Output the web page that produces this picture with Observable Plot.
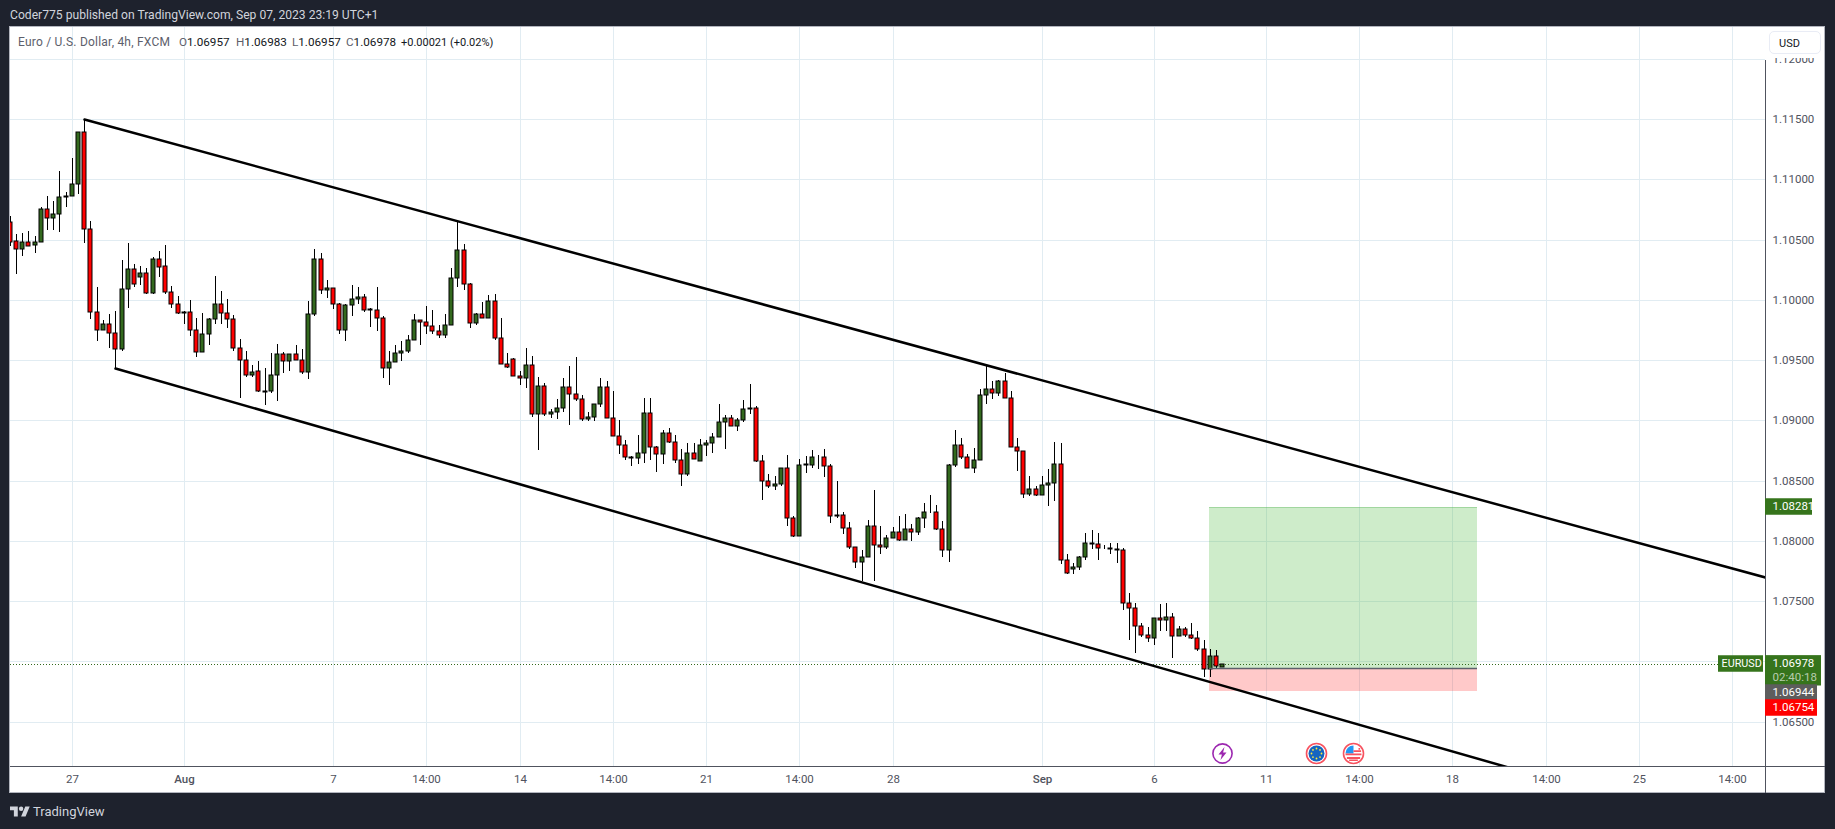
<!DOCTYPE html>
<html><head><meta charset="utf-8">
<script src="https://cdn.jsdelivr.net/npm/d3@7"></script>
<script src="https://cdn.jsdelivr.net/npm/@observablehq/plot@0.6"></script>
<style>
html,body{margin:0;padding:0;width:1835px;height:829px;overflow:hidden;background:#1e222d;font-family:Roboto,sans-serif}
#panel{position:absolute;left:10px;top:27px;width:1814px;height:765px;background:#fff;border:1px solid #b2b5be;box-sizing:content-box;margin:-1px}
#chart{position:absolute;left:0;top:0}
#head{position:absolute;left:10px;top:6px;font-size:12.13px;color:#d1d4dc;white-space:nowrap;line-height:18px}
#legend span{position:absolute;top:34px;font-size:11.7px;color:#131722;white-space:pre;line-height:17px}
#legend b{font-weight:400;color:#5d606b}
#legend .name{left:18px;letter-spacing:.22px;color:#5d606b;font-size:12px}
#legend .chg{left:401px;font-size:11px}
#cover{position:absolute;left:1766px;top:27px;width:58px;height:31px;background:#fff}
#usd{position:absolute;left:1769px;top:31px;width:41px;height:21px;background:#fff;border:1px solid #e9ecf5;border-radius:5px;font-size:11px;color:#131722;line-height:23px;padding-left:9px;box-sizing:content-box}
#brand{position:absolute;left:10px;top:804px;font-size:13px;color:#d1d4dc;line-height:16px;display:flex;align-items:center;gap:3px}
</style></head><body>
<div id="panel"></div>
<div id="chart"></div>
<div id="head">Coder775 published on TradingView.com, Sep 07, 2023 23:19 UTC+1</div>
<div id="legend"><span class="name">Euro / U.S. Dollar, 4h, FXCM</span><span style="left:179px"><b>O</b>1.06957</span><span style="left:236px"><b>H</b>1.06983</span><span style="left:292px"><b>L</b>1.06957</span><span style="left:346px"><b>C</b>1.06978</span><span class="chg">+0.00021 (+0.02%)</span></div>
<div id="cover"></div>
<div id="usd">USD</div>
<div id="brand"><svg width="20" height="16" viewBox="0 0 36 28"><path fill="#d1d4dc" d="M14 22H7V11H0V4h14v18zM28 22h-8l7.5-18h8L28 22z"/><circle fill="#d1d4dc" cx="20" cy="8" r="4"/></svg><span>TradingView</span></div>
<script>
const opens=[1.10645,1.10487,1.10421,1.10479,1.10454,1.10479,1.10753,1.10678,1.10711,1.10852,
1.10861,1.10960,1.11392,1.10587,1.09898,1.09749,1.09798,1.09724,1.09591,1.10089,
1.10255,1.10188,1.10222,1.10056,1.10338,1.10280,1.10064,1.09964,1.09890,1.09898,
1.09749,1.09566,1.09715,1.09840,1.09964,1.09890,1.09840,1.09599,1.09500,1.09375,
1.09406,1.09236,1.09243,1.09379,1.09553,1.09492,1.09553,1.09503,1.09403,1.09885,
1.10341,1.10084,1.10100,1.09968,1.09752,1.09959,1.10009,1.10026,1.09918,1.09918,
1.09851,1.09437,1.09486,1.09561,1.09578,1.09669,1.09835,1.09818,1.09785,1.09744,
1.09710,1.09793,1.10183,1.10415,1.10133,1.09810,1.09885,1.09851,1.09992,1.09685,
1.09470,1.09509,1.09370,1.09351,1.09461,1.09055,1.09287,1.09055,1.09071,1.09104,
1.09279,1.09221,1.09179,1.09013,1.09030,1.09138,1.09279,1.09022,1.08872,1.08798,
1.08698,1.08690,1.08731,1.09063,1.08781,1.08723,1.08897,1.08822,1.08673,1.08557,
1.08731,1.08665,1.08798,1.08814,1.08864,1.08988,1.09022,1.08955,1.09005,1.09096,
1.09104,1.08665,1.08499,1.08455,1.08474,1.08607,1.08192,1.08043,1.08632,1.08632,
1.08698,1.08698,1.08624,1.08206,1.08217,1.08109,1.07949,1.07827,1.07869,1.08126,
1.07968,1.07949,1.08027,1.08076,1.08007,1.08101,1.08076,1.08192,1.08242,1.08242,
1.08101,1.07927,1.08632,1.08798,1.08698,1.08607,1.08673,1.09212,1.09262,1.09229,
1.09328,1.09187,1.08781,1.08747,1.08391,1.08432,1.08382,1.08465,1.08482,1.08640,
1.07843,1.07769,1.07785,1.07868,1.07984,1.07976,1.07940,1.07943,1.07935,1.07926,
1.07487,1.07445,1.07296,1.07221,1.07196,1.07362,1.07346,1.07371,1.07213,1.07271,
1.07221,1.07196,1.07105,1.06939,1.07047,1.06957];
const closes=[1.10484,1.10421,1.10479,1.10451,1.10479,1.10753,1.10678,1.10711,1.10852,1.10858,
1.10960,1.11392,1.10587,1.09898,1.09749,1.09798,1.09724,1.09591,1.10089,1.10255,
1.10130,1.10222,1.10056,1.10338,1.10277,1.10064,1.09964,1.09890,1.09898,1.09749,
1.09566,1.09715,1.09840,1.09964,1.09890,1.09840,1.09599,1.09500,1.09375,1.09400,
1.09240,1.09243,1.09379,1.09553,1.09492,1.09553,1.09503,1.09403,1.09885,1.10341,
1.10084,1.10100,1.09968,1.09752,1.09959,1.10009,1.10026,1.09918,1.09924,1.09851,
1.09437,1.09486,1.09561,1.09578,1.09669,1.09835,1.09818,1.09785,1.09744,1.09710,
1.09793,1.10183,1.10415,1.10133,1.09810,1.09885,1.09851,1.09992,1.09685,1.09470,
1.09445,1.09370,1.09351,1.09461,1.09055,1.09287,1.09055,1.09071,1.09104,1.09279,
1.09221,1.09176,1.09013,1.09030,1.09138,1.09279,1.09022,1.08872,1.08798,1.08698,
1.08690,1.08731,1.09063,1.08781,1.08723,1.08897,1.08822,1.08673,1.08557,1.08731,
1.08681,1.08798,1.08814,1.08864,1.08988,1.09022,1.08955,1.09005,1.09096,1.09104,
1.08665,1.08499,1.08455,1.08474,1.08607,1.08192,1.08043,1.08632,1.08640,1.08698,
1.08698,1.08624,1.08209,1.08217,1.08109,1.07949,1.07827,1.07869,1.08126,1.07968,
1.07949,1.08027,1.08076,1.08007,1.08101,1.08076,1.08192,1.08242,1.08242,1.08101,
1.07927,1.08632,1.08798,1.08698,1.08607,1.08674,1.09212,1.09262,1.09229,1.09328,
1.09187,1.08781,1.08747,1.08391,1.08432,1.08382,1.08465,1.08482,1.08640,1.07843,
1.07735,1.07785,1.07868,1.07984,1.07976,1.07943,1.07940,1.07935,1.07926,1.07487,
1.07445,1.07296,1.07221,1.07196,1.07362,1.07346,1.07371,1.07213,1.07271,1.07221,
1.07196,1.07105,1.06939,1.07047,1.06964,1.06978];
const highs=[1.10700,1.10545,1.10556,1.10573,1.10529,1.10772,1.10863,1.10822,1.11071,1.10897,
1.11179,1.11392,1.11500,1.10653,1.10108,1.09832,1.09881,1.09909,1.10332,1.10473,
1.10299,1.10283,1.10263,1.10357,1.10404,1.10457,1.10114,1.10034,1.09906,1.10000,
1.09851,1.09893,1.09851,1.10200,1.10075,1.10009,1.09873,1.09677,1.09577,1.09458,
1.09497,1.09437,1.09561,1.09630,1.09569,1.09553,1.09622,1.09589,1.09987,1.10426,
1.10393,1.10169,1.10100,1.09976,1.09968,1.10120,1.10103,1.10050,1.09929,1.10111,
1.09868,1.09578,1.09622,1.09655,1.09710,1.09887,1.09835,1.09951,1.09918,1.09793,
1.09887,1.10266,1.10650,1.10460,1.10142,1.09893,1.09984,1.10037,1.10050,1.09846,
1.09561,1.09520,1.09412,1.09602,1.09536,1.09362,1.09312,1.09096,1.09179,1.09348,
1.09453,1.09528,1.09212,1.09071,1.09138,1.09348,1.09328,1.09240,1.09005,1.08839,
1.08706,1.08875,1.09190,1.09182,1.08789,1.08922,1.08939,1.08875,1.08764,1.08814,
1.08814,1.08847,1.08839,1.08897,1.09140,1.09046,1.09041,1.09022,1.09171,1.09306,
1.09121,1.08715,1.08557,1.08541,1.08607,1.08715,1.08209,1.08682,1.08709,1.08756,
1.08715,1.08765,1.08640,1.08494,1.08242,1.08159,1.07949,1.07927,1.08176,1.08419,
1.08126,1.08051,1.08118,1.08209,1.08226,1.08143,1.08201,1.08317,1.08383,1.08300,
1.08167,1.08640,1.08922,1.08856,1.08723,1.08773,1.09262,1.09461,1.09328,1.09336,
1.09394,1.09245,1.08855,1.08747,1.08543,1.08457,1.08540,1.08598,1.08822,1.08814,
1.07893,1.07818,1.07879,1.08070,1.08095,1.08062,1.07965,1.07987,1.07987,1.07943,
1.07570,1.07487,1.07321,1.07288,1.07362,1.07478,1.07487,1.07404,1.07296,1.07288,
1.07321,1.07255,1.07180,1.07105,1.07097,1.06983];
const lows=[1.10450,1.10211,1.10360,1.10443,1.10385,1.10479,1.10576,1.10576,1.10567,1.10772,
1.10858,1.10880,1.10476,1.09843,1.09663,1.09749,1.09597,1.09433,1.09572,1.09934,
1.10111,1.10125,1.10053,1.10053,1.10194,1.10045,1.09934,1.09884,1.09801,1.09702,
1.09530,1.09566,1.09627,1.09804,1.09804,1.09763,1.09580,1.09187,1.09359,1.09364,
1.09232,1.09127,1.09226,1.09160,1.09395,1.09406,1.09503,1.09384,1.09343,1.09865,
1.10048,1.10015,1.09923,1.09716,1.09658,1.09865,1.09965,1.09901,1.09774,1.09741,
1.09351,1.09293,1.09486,1.09497,1.09561,1.09669,1.09622,1.09721,1.09716,1.09680,
1.09683,1.09793,1.10103,1.10081,1.09766,1.09791,1.09851,1.09851,1.09666,1.09470,
1.09434,1.09370,1.09295,1.09268,1.09027,1.08751,1.09035,1.09019,1.09010,1.09069,
1.08966,1.09160,1.08994,1.08994,1.08994,1.09110,1.09022,1.08872,1.08720,1.08670,
1.08621,1.08637,1.08645,1.08670,1.08571,1.08637,1.08811,1.08645,1.08455,1.08538,
1.08681,1.08665,1.08704,1.08728,1.08864,1.08759,1.08955,1.08911,1.08986,1.09055,
1.08654,1.08339,1.08439,1.08422,1.08455,1.08123,1.08035,1.08043,1.08563,1.08607,
1.08593,1.08530,1.08148,1.08192,1.08054,1.07933,1.07772,1.07667,1.07869,1.07667,
1.07891,1.07935,1.08027,1.08000,1.08007,1.07996,1.08046,1.08104,1.08236,1.08090,
1.07869,1.07825,1.08615,1.08682,1.08607,1.08566,1.08673,1.09135,1.09176,1.09201,
1.09187,1.08781,1.08579,1.08355,1.08371,1.08371,1.08382,1.08288,1.08330,1.07807,
1.07727,1.07727,1.07758,1.07840,1.07932,1.07840,1.07932,1.07890,1.07816,1.07426,
1.07177,1.07067,1.07202,1.07161,1.07136,1.07252,1.07252,1.07028,1.07213,1.07205,
1.07188,1.07089,1.06870,1.06870,1.06948,1.06957];

const yTicks=[1.065,1.07,1.075,1.08,1.085,1.09,1.095,1.10,1.105,1.11,1.115,1.12];
const dayTicks=[10,52,67,82,97,112,127,142,184,202,217,232,247,262,277];
const dayLabels=["27","7","14:00","14","14:00","21","14:00","28","6","11","14:00","18","14:00","25","14:00"];
const monthTicks=[28,166];
const monthLabels=["Aug","Sep"];

const upperChannel=[{i:12,p:1.115},{i:282.2,p:1.07705}];
const lowerChannel=[{i:17,p:1.09433},{i:241,p:1.06123}];
const targetPrice=1.08281, entryPrice=1.06944, stopPrice=1.06754, lastPrice=1.06978;
const boxStart=192.8, boxEnd=236;

const tagNames=["1.08281","1.06978","1.06944","1.06754"];
const tagLevels=[1.08289,1.06986,1.06751,1.06622];
const tagColors=["#36741c","#36741c","#5d5d5d","#ff0000"];
const tagEnds=[289.9,291.3,290.6,290.6];

const eventIdx=[195,210,216];
const eventLevel=1.06245;
const axisIdx=282.2;

const candles=opens.map((o,i)=>({i,o,c:closes[i],h:highs[i],l:lows[i]}));
const tags=tagNames.map((t,k)=>({t,y:tagLevels[k],fill:tagColors[k],end:tagEnds[k]}));
const events=eventIdx.map(i=>({i,y:eventLevel}));

const bolt={draw(c){c.moveTo(2,-6.5);c.lineTo(-4,1);c.lineTo(-.6,1);c.lineTo(-2,6.5);c.lineTo(4,-1);c.lineTo(.6,-1);c.closePath();}};
const stars={draw(c){for(let k=0;k<8;k++){const a=k*Math.PI/4,x=5*Math.cos(a),y=5*Math.sin(a);c.moveTo(x+.9,y);c.arc(x,y,.9,0,7);}}};
const stripes={draw(c){for(const [y,h] of [[0,1.8],[3.6,1.8],[6,1.4]]){const w=Math.sqrt(64-Math.pow(y+h/2,2));c.rect(-w,y,2*w,h);}c.rect(5,-5.5,1.6,1.8);c.rect(0,-3.2,7.6,1.8);}};
const canton={draw(c){c.moveTo(0,-8);c.lineTo(0,0);c.lineTo(-8,0);c.arc(0,0,8,Math.PI,1.5*Math.PI);c.closePath();}};

const font="Roboto, sans-serif";
const svg=Plot.plot({
  width:1835,height:829,
  marginLeft:10,marginRight:70,marginTop:27,marginBottom:63,
  style:{background:"transparent",fontFamily:font},
  x:{type:"linear",domain:[0.06,282.28],axis:null,round:true},
  y:{type:"linear",domain:[1.06133,1.12264],axis:null,round:true},
  color:{type:"identity"},
  marks:[
    Plot.ruleX([...dayTicks,...monthTicks],{stroke:"#e1ecf2",strokeWidth:1}),
    Plot.ruleY(yTicks,{stroke:"#e1ecf2",strokeWidth:1}),
    Plot.rect([0],{x1:boxStart,x2:boxEnd,y1:entryPrice,y2:targetPrice,fill:"#4ab93b",fillOpacity:.27}),
    Plot.rect([0],{x1:boxStart,x2:boxEnd,y1:stopPrice,y2:entryPrice,fill:"#ff0000",fillOpacity:.21}),
    Plot.ruleY([targetPrice],{x1:boxStart,x2:boxEnd,stroke:"#4caf50",strokeOpacity:.35}),
    Plot.ruleY([lastPrice],{stroke:"#33691e",strokeWidth:1,strokeDasharray:"1,2"}),
    Plot.ruleX(candles,{x:"i",y1:"l",y2:"h",stroke:"#000",strokeWidth:1,clip:true}),
    Plot.rect(candles,{x1:"i",x2:"i",insetLeft:-2,insetRight:-2,y1:"o",y2:"c",fill:d=>d.c>=d.o?"#33691e":"#ff0000",stroke:"#000",strokeWidth:1,clip:true}),
    Plot.ruleY([entryPrice],{x1:boxStart,x2:boxEnd,stroke:"#5d606b",strokeWidth:1.5}),
    Plot.line(upperChannel,{x:"i",y:"p",stroke:"#000",strokeWidth:2.5,clip:true}),
    Plot.line(lowerChannel,{x:"i",y:"p",stroke:"#000",strokeWidth:2.5,clip:true}),
    Plot.dot(events.slice(0,1),{x:"i",y:"y",r:9.6,fill:"#fff",stroke:"#9c27b0",strokeWidth:1.6}),
    Plot.dot(events.slice(0,1),{x:"i",y:"y",symbol:bolt,fill:"#9c27b0"}),
    Plot.dot(events.slice(1),{x:"i",y:"y",r:10,fill:"#fff",stroke:"#f7525f",strokeWidth:1.6}),
    Plot.dot(events.slice(1,2),{x:"i",y:"y",r:8,fill:"#1565c0"}),
    Plot.dot(events.slice(1,2),{x:"i",y:"y",symbol:stars,fill:"#ffeb3b"}),
    Plot.dot(events.slice(2),{x:"i",y:"y",symbol:canton,fill:"#2196f3"}),
    Plot.dot(events.slice(2),{x:"i",y:"y",symbol:stripes,fill:"#f7525f"}),
    Plot.ruleY([1.06133],{x1:0.06,x2:291.9,stroke:"#50535e",strokeWidth:1}),
    Plot.ruleX([282.24],{y1:1.05909,y2:1.11988,stroke:"#50535e",strokeWidth:1}),
    Plot.axisY(yTicks,{anchor:"right",tickSize:0,tickPadding:7,tickFormat:d3.format(".5f"),fontSize:11.5,fill:"#50535e",label:null}),
    Plot.axisX(dayTicks,{anchor:"bottom",tickSize:0,tickPadding:8,tickFormat:d=>dayLabels[dayTicks.indexOf(d)],fontSize:11.5,fill:"#50535e",label:null}),
    Plot.axisX(monthTicks,{anchor:"bottom",tickSize:0,tickPadding:8,tickFormat:d=>monthLabels[monthTicks.indexOf(d)],fontSize:11.5,fontWeight:500,fill:"#50535e",label:null}),
    Plot.ruleY([{y:1.06933}],{y:"y",x1:axisIdx+.1,x2:291.3,stroke:"#36741c",strokeWidth:30}),
    Plot.ruleY(tags,{y:"y",x1:axisIdx+.1,x2:"end",stroke:"fill",strokeWidth:16.5}),
    Plot.ruleY([1.06986],{x1:274.7,x2:282,stroke:"#36741c",strokeWidth:16.5}),
    Plot.text(tags,{x:axisIdx,y:"y",text:"t",dx:7,textAnchor:"start",fill:"#fff",fontSize:11.5}),
    Plot.text(["02:40:18"],{x:axisIdx,y:1.06868,text:d=>d,dx:7,textAnchor:"start",fill:"#fff",fillOpacity:.65,fontSize:11.5}),
    Plot.text(["EURUSD"],{x:274.7,y:1.06986,text:d=>d,dx:3,textAnchor:"start",fill:"#fff",fontSize:10.8})
  ]
});
document.getElementById("chart").appendChild(svg);
</script>
</body></html>
